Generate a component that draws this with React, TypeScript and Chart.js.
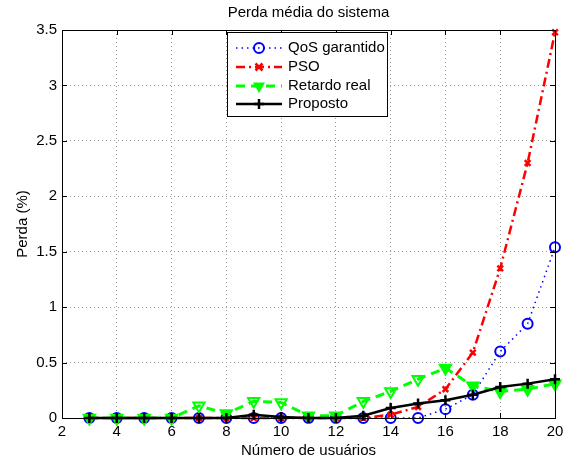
import React, { useEffect, useRef } from "react";
import { Chart, registerables } from "chart.js";

Chart.register(...registerables);

const users = [3, 4, 5, 6, 7, 8, 9, 10, 11, 12, 13, 14, 15, 16, 17, 18, 19, 20];
const qosGarantido = [0, 0, 0, 0, 0, 0, 0, 0, 0, 0, 0, 0, 0, 0.08, 0.21, 0.6, 0.85, 1.54];
const pso = [0, 0, 0, 0, 0, 0, 0, 0, 0, 0, 0, 0.03, 0.1, 0.26, 0.59, 1.35, 2.3, 3.48];
const retardoReal = [0, 0, 0, 0, 0.11, 0.04, 0.15, 0.14, 0.02, 0.02, 0.15, 0.24, 0.35, 0.45, 0.29, 0.24, 0.26, 0.31];
const proposto = [0, 0, 0, 0, 0, 0, 0.03, 0.01, 0, 0, 0.02, 0.09, 0.13, 0.16, 0.21, 0.28, 0.31, 0.35];
const hollowRetardo = [7, 9, 10, 13, 14, 15];

const xTicks = [2, 4, 6, 8, 10, 12, 14, 16, 18, 20];
const yTicks = [0, 0.5, 1, 1.5, 2, 2.5, 3, 3.5];

const titleText = "Perda média do sistema";
const xTitle = "Número de usuários";
const yTitle = "Perda (%)";
const legendLabels = ["QoS garantido", "PSO", "Retardo real", "Proposto"];

const FONT = "'Liberation Sans', Arial, sans-serif";
const FS = 15;

function toPoints(ys: number[]) {
  return users.map((x, i) => ({ x, y: ys[i] }));
}

function drawMarker(ctx: CanvasRenderingContext2D, kind: string, x: number, y: number, color: string) {
  ctx.save();
  ctx.setLineDash([]);
  ctx.strokeStyle = color;
  ctx.fillStyle = color;
  if (kind === "circle") {
    ctx.lineWidth = 2;
    ctx.beginPath();
    ctx.arc(x, y, 5, 0, Math.PI * 2);
    ctx.stroke();
  } else if (kind === "x") {
    ctx.lineWidth = 2.5;
    const r = 3.5;
    ctx.beginPath();
    ctx.moveTo(x - r, y - r);
    ctx.lineTo(x + r, y + r);
    ctx.moveTo(x + r, y - r);
    ctx.lineTo(x - r, y + r);
    ctx.stroke();
  } else if (kind === "tri") {
    const r = 7;
    ctx.beginPath();
    ctx.moveTo(x - r * 0.866, y - r * 0.5);
    ctx.lineTo(x + r * 0.866, y - r * 0.5);
    ctx.lineTo(x, y + r);
    ctx.closePath();
    ctx.fill();
  } else if (kind === "plus") {
    ctx.lineWidth = 2.5;
    const r = 5;
    ctx.beginPath();
    ctx.moveTo(x - r, y);
    ctx.lineTo(x + r, y);
    ctx.moveTo(x, y - r);
    ctx.lineTo(x, y + r);
    ctx.stroke();
  }
  ctx.restore();
}

const overlayPlugin = {
  id: "overlay",
  afterDraw(chart: any) {
    const { ctx, chartArea } = chart;
    const { left, right, top, bottom } = chartArea;
    const xs = chart.scales.x;
    const ys = chart.scales.y;
    ctx.save();
    ctx.setLineDash([]);
    ctx.strokeStyle = "#000";
    ctx.lineWidth = 1;
    ctx.strokeRect(Math.round(left) + 0.5, Math.round(top) + 0.5, Math.round(right - left), Math.round(bottom - top));
    ctx.beginPath();
    xTicks.forEach((t) => {
      const px = Math.round(xs.getPixelForValue(t)) + 0.5;
      ctx.moveTo(px, bottom);
      ctx.lineTo(px, bottom - 5);
      ctx.moveTo(px, top);
      ctx.lineTo(px, top + 5);
    });
    yTicks.forEach((t) => {
      const py = Math.round(ys.getPixelForValue(t)) + 0.5;
      ctx.moveTo(left, py);
      ctx.lineTo(left + 5, py);
      ctx.moveTo(right, py);
      ctx.lineTo(right - 5, py);
    });
    ctx.stroke();

    ctx.fillStyle = "#000";
    ctx.font = `${FS}px ${FONT}`;
    ctx.textAlign = "center";
    ctx.textBaseline = "middle";
    ctx.fillText(titleText, (left + right) / 2, 13);

    const bx = 227.5, by = 32.5, bw = 160, bh = 84;
    ctx.fillStyle = "#fff";
    ctx.fillRect(bx, by, bw, bh);
    ctx.strokeStyle = "#000";
    ctx.lineWidth = 1;
    ctx.strokeRect(bx, by, bw, bh);
    const styles = [
      { color: "#0000ff", dash: [1.5, 4], width: 1.5, marker: "circle" },
      { color: "#ff0000", dash: [9, 4, 2, 4], width: 2.5, marker: "x" },
      { color: "#00ff00", dash: [9, 6], width: 3, marker: "tri" },
      { color: "#000000", dash: [], width: 2.5, marker: "plus" },
    ];
    const rowY = [48, 67, 86, 104];
    styles.forEach((s, i) => {
      const y = rowY[i];
      ctx.save();
      ctx.strokeStyle = s.color;
      ctx.lineWidth = s.width;
      ctx.setLineDash(s.dash);
      ctx.beginPath();
      ctx.moveTo(236, y);
      ctx.lineTo(282, y);
      ctx.stroke();
      ctx.restore();
      drawMarker(ctx, s.marker, 259, y, s.color);
      ctx.fillStyle = "#000";
      ctx.font = `${FS}px ${FONT}`;
      ctx.textAlign = "left";
      ctx.textBaseline = "middle";
      ctx.fillText(legendLabels[i], 288, y);
    });
    ctx.restore();
  },
};

export default function App() {
  const ref = useRef<HTMLCanvasElement | null>(null);

  useEffect(() => {
    if (!ref.current) return;
    const chart = new Chart(ref.current, {
      type: "line",
      data: {
        datasets: [
          {
            label: legendLabels[0],
            data: toPoints(qosGarantido),
            borderColor: "#0000ff",
            borderWidth: 1.5,
            borderDash: [1.5, 4],
            pointStyle: "circle",
            pointRadius: 5,
            pointBorderWidth: 2,
            pointBorderColor: "#0000ff",
            pointBackgroundColor: "rgba(0,0,0,0)",
            fill: false,
            clip: false,
            order: 3,
          },
          {
            label: legendLabels[1],
            data: toPoints(pso),
            borderColor: "#ff0000",
            borderWidth: 2.5,
            borderDash: [9, 4, 2, 4],
            pointStyle: "crossRot",
            pointRadius: 4,
            pointBorderWidth: 2.5,
            pointBorderColor: "#ff0000",
            fill: false,
            clip: false,
            order: 2,
          },
          {
            label: legendLabels[2],
            data: toPoints(retardoReal),
            borderColor: "#00ff00",
            borderWidth: 3,
            borderDash: [9, 6],
            pointStyle: "triangle",
            pointRotation: 180,
            pointRadius: 6.5,
            pointBorderWidth: 2,
            pointBorderColor: "#00ff00",
            pointBackgroundColor: users.map((u) => (hollowRetardo.includes(u) ? "rgba(255,255,255,0)" : "#00ff00")),
            fill: false,
            clip: false,
            order: 1,
          },
          {
            label: legendLabels[3],
            data: toPoints(proposto),
            borderColor: "#000000",
            borderWidth: 2.5,
            pointStyle: "cross",
            pointRadius: 5,
            pointBorderWidth: 2.5,
            pointBorderColor: "#000000",
            fill: false,
            clip: false,
            order: 0,
          },
        ],
      },
      options: {
        animation: false,
        responsive: true,
        maintainAspectRatio: false,
        layout: { padding: { top: 30, right: 10, left: 0, bottom: 0 } },
        plugins: {
          legend: { display: false },
          title: { display: false },
          tooltip: { enabled: false },
        },
        scales: {
          x: {
            type: "linear",
            min: 2,
            max: 20,
            afterBuildTicks: (scale: any) => {
              scale.ticks = xTicks.map((v) => ({ value: v }));
            },
            afterFit: (scale: any) => {
              scale.height = 43;
              scale.paddingLeft = 0;
              scale.paddingRight = 0;
            },
            ticks: {
              color: "#000",
              padding: 5,
              font: { family: FONT, size: FS },
              maxRotation: 0,
              callback: (v: any) => String(v),
            },
            grid: {
              color: "#999999",
              lineWidth: 1,
              drawTicks: false,
            },
            border: { display: false, dash: [1, 3] },
            title: {
              display: true,
              text: xTitle,
              color: "#000",
              font: { family: FONT, size: FS },
              padding: { top: 0, bottom: 1 },
            },
          },
          y: {
            type: "linear",
            min: 0,
            max: 3.5,
            afterBuildTicks: (scale: any) => {
              scale.ticks = yTicks.map((v) => ({ value: v }));
            },
            afterFit: (scale: any) => {
              scale.width = 62;
              scale.paddingTop = 0;
              scale.paddingBottom = 0;
            },
            ticks: {
              color: "#000",
              padding: 5,
              font: { family: FONT, size: FS },
              callback: (v: any) => String(v),
            },
            grid: {
              color: "#999999",
              lineWidth: 1,
              drawTicks: false,
            },
            border: { display: false, dash: [1, 3] },
            title: {
              display: true,
              text: yTitle,
              color: "#000",
              font: { family: FONT, size: FS },
              padding: { top: 14, bottom: 0 },
            },
          },
        },
      },
      plugins: [overlayPlugin],
    } as any);
    return () => chart.destroy();
  }, []);

  return (
    <div style={{ position: "absolute", left: 0, top: 0, width: 565, height: 461, background: "#fff" }}>
      <canvas ref={ref} />
    </div>
  );
}
